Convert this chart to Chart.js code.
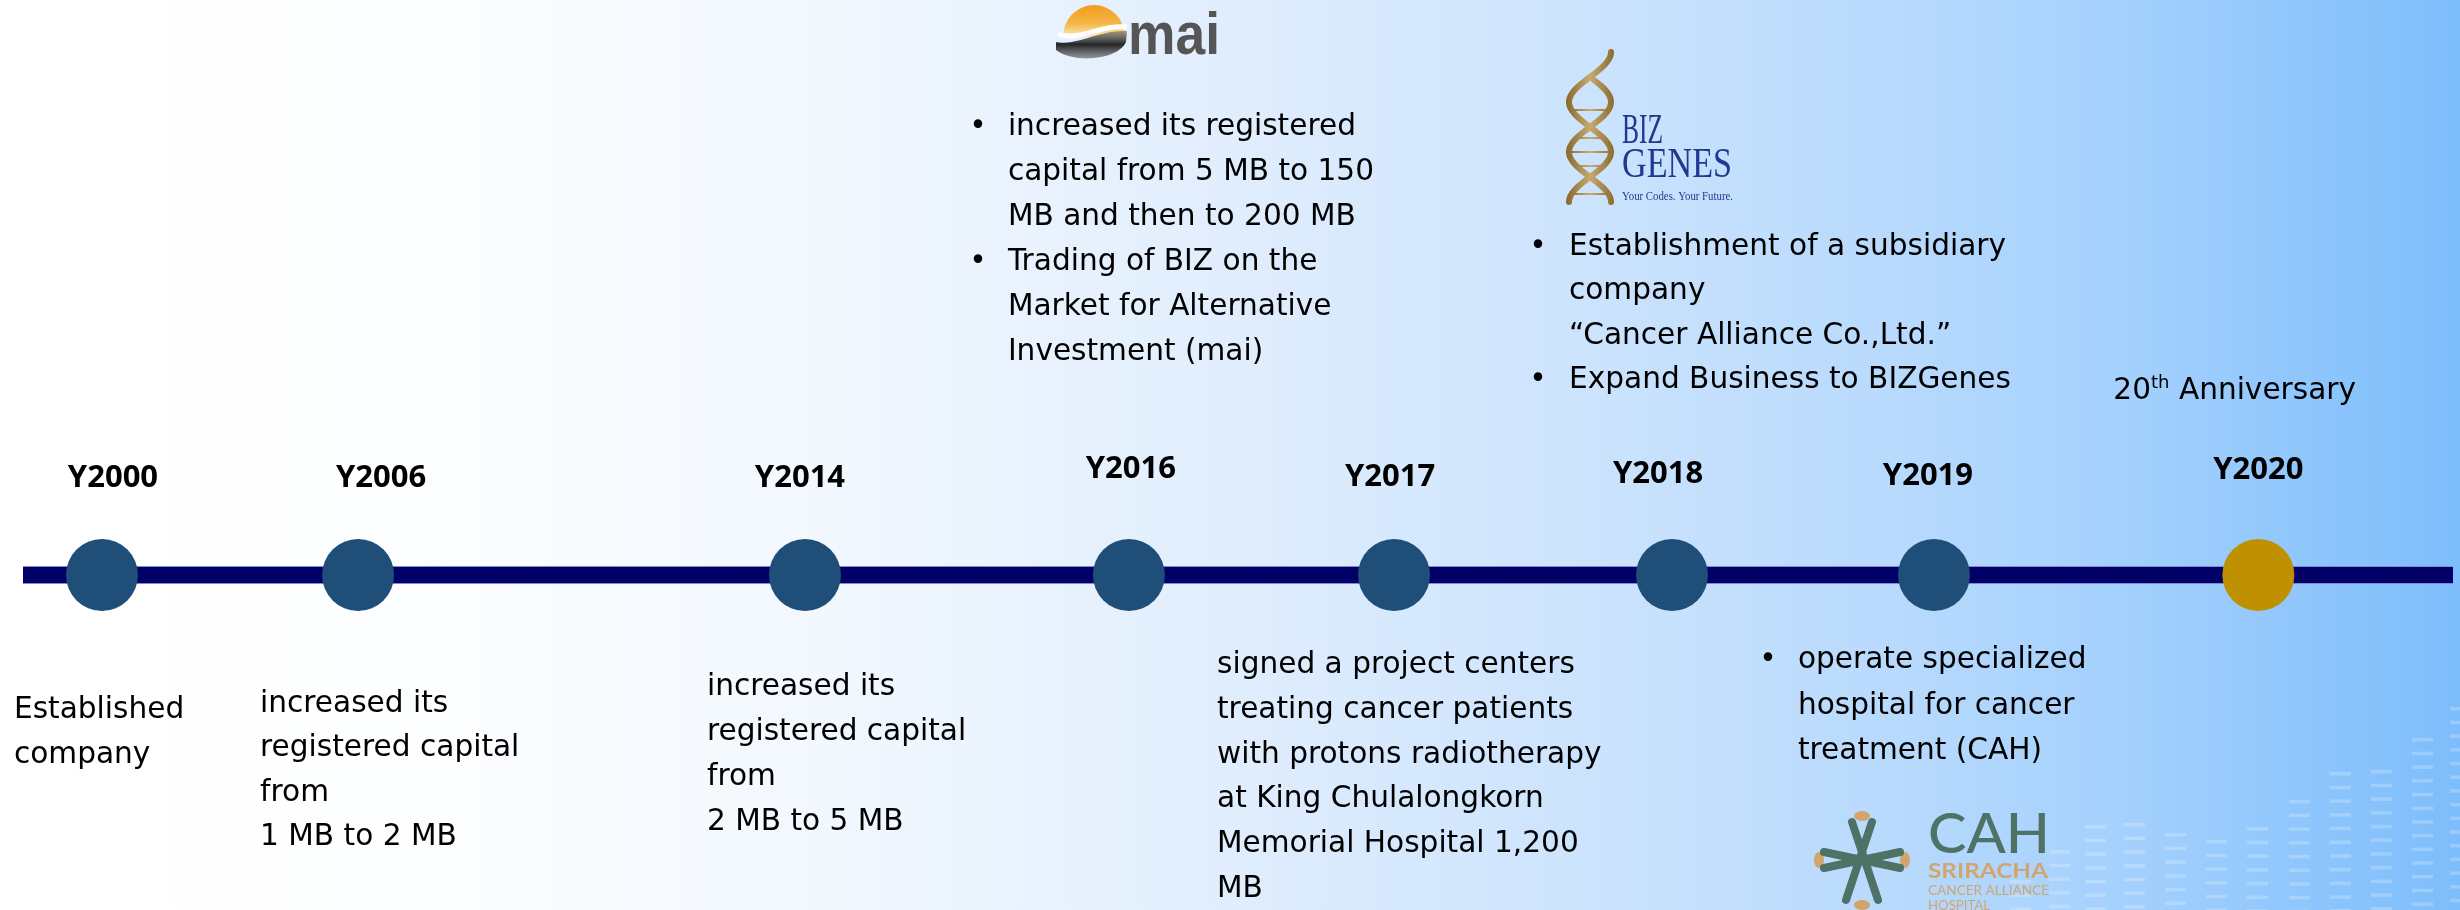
<!DOCTYPE html>
<html>
<head>
<meta charset="utf-8">
<script src="https://cdn.jsdelivr.net/npm/chart.js@4/dist/chart.umd.min.js"></script>
<style>
html,body{margin:0;padding:0;background:#fff;overflow:hidden}
#wrap{width:2460px;height:910px;position:relative}
canvas{display:block}
</style>
</head>
<body>
<div id="wrap"><canvas id="c" width="2460" height="910"></canvas></div>
<script>
// ---------------- DATA ----------------
const years = ['Y2000','Y2006','Y2014','Y2016','Y2017','Y2018','Y2019','Y2020'];
// position of each milestone along the timeline track (percent of track length)
const timelinePos = [3.25, 13.79, 32.18, 45.51, 56.42, 67.86, 78.64, 91.99];
const milestoneLevel = [0, 0, 0, 0, 0, 0, 0, 0];
const highlighted = [false, false, false, false, false, false, false, true];
const bulleted = [false, false, false, true, false, true, true, false];
const eventText = [
  [['Established', 'company']],
  [['increased its', 'registered capital', 'from', '1 MB to 2 MB']],
  [['increased its', 'registered capital', 'from', '2 MB to 5 MB']],
  [['increased its registered', 'capital from 5 MB to 150', 'MB and then to 200 MB'],
   ['Trading of BIZ on the', 'Market for Alternative', 'Investment (mai)']],
  [['signed a project centers', 'treating cancer patients', 'with protons radiotherapy',
    'at King Chulalongkorn', 'Memorial Hospital 1,200', 'MB']],
  [['Establishment of a subsidiary', 'company', '\u201cCancer Alliance Co.,Ltd.\u201d'],
   ['Expand Business to BIZGenes']],
  [['operate specialized', 'hospital for cancer', 'treatment (CAH)']],
  [['20th Anniversary']]
];

// ---------------- LAYOUT (text placement only) ----------------
const textLayout = [
  {dx: -88,  y0: 718, step: 45,   labelDx: 11,  labelY: 487},
  {dx: -98,  y0: 712, step: 44.3, labelDx: 23,  labelY: 487},
  {dx: -98,  y0: 695, step: 45,   labelDx: -5,  labelY: 487},
  {dx: -121, y0: 135, step: 45,   labelDx: 2,   labelY: 478, bulletDx: -151},
  {dx: -177, y0: 673, step: 44.8, labelDx: -4,  labelY: 486},
  {dx: -103, y0: 255, step: 44.3, labelDx: -14, labelY: 483, bulletDx: -134},
  {dx: -136, y0: 668, step: 45.5, labelDx: -6,  labelY: 485, bulletDx: -166},
  {dx: -145, y0: 399, step: 45,   labelDx: 0,   labelY: 479}
];
const BODY_FONT = '29.6px "DejaVu Sans"';
const LABEL_FONT = 'bold 31px "Open Sans"';

function fitText(ctx, text, x, y, targetW) {
  const w = ctx.measureText(text).width;
  ctx.save();
  ctx.translate(x, y);
  ctx.scale(targetW / w, 1);
  ctx.fillText(text, 0, 0);
  ctx.restore();
}

// background gradient + faint equalizer decoration
const bgPlugin = {
  id: 'bg',
  beforeDraw(chart) {
    const ctx = chart.ctx;
    const W = chart.width, H = chart.height;
    ctx.save();
    const g = ctx.createLinearGradient(0, 0, W, 0);
    g.addColorStop(0, '#ffffff');
    g.addColorStop(0.16, '#fdfeff');
    g.addColorStop(0.33, '#f2f8fe');
    g.addColorStop(0.49, '#e2eefd');
    g.addColorStop(0.65, '#cbe3fd');
    g.addColorStop(0.78, '#b6d9fd');
    g.addColorStop(0.875, '#a1cffd');
    g.addColorStop(1, '#7dbdfb');
    ctx.fillStyle = g;
    ctx.fillRect(0, 0, W, H);
    // decorative equalizer columns (background art)
    const cols = [[2020, 880], [2059, 850], [2095, 825], [2134, 823], [2175, 833], [2216, 840],
                  [2257, 827], [2299, 800], [2340, 772], [2381, 770], [2422, 738], [2460, 707]];
    ctx.fillStyle = 'rgba(255,255,255,0.22)';
    cols.forEach(([cx, top]) => {
      for (let y = top; y < H; y += 13.7) ctx.fillRect(cx - 10, y, 21, 3.5);
    });
    ctx.restore();
  }
};

function drawMai(ctx) {
  ctx.save();
  let g = ctx.createLinearGradient(0, 4, 0, 36);
  g.addColorStop(0, '#f09c1c');
  g.addColorStop(0.6, '#f5b545');
  g.addColorStop(1, '#fde6b8');
  ctx.fillStyle = g;
  ctx.beginPath();
  ctx.ellipse(1094, 37, 31, 32, 0, Math.PI, 2 * Math.PI);
  ctx.closePath();
  ctx.fill();
  g = ctx.createLinearGradient(0, 30, 0, 62);
  g.addColorStop(0, 'rgba(90,90,90,0.5)');
  g.addColorStop(0.45, '#262626');
  g.addColorStop(1, 'rgba(60,60,60,0.35)');
  ctx.fillStyle = g;
  ctx.beginPath();
  ctx.moveTo(1056, 42);
  ctx.bezierCurveTo(1078, 46, 1098, 30, 1127, 31);
  ctx.lineTo(1126, 42);
  ctx.bezierCurveTo(1118, 60, 1074, 64, 1056, 50);
  ctx.closePath();
  ctx.fill();
  ctx.strokeStyle = '#ffffff';
  ctx.lineWidth = 5;
  ctx.beginPath();
  ctx.moveTo(1058, 34);
  ctx.bezierCurveTo(1080, 42, 1100, 24, 1127, 27);
  ctx.stroke();
  g = ctx.createLinearGradient(0, 20, 0, 56);
  g.addColorStop(0, '#555');
  g.addColorStop(1, '#222');
  ctx.fillStyle = g;
  ctx.font = 'bold 60px "Liberation Sans"';
  ctx.textBaseline = 'alphabetic';
  ctx.textAlign = 'left';
  fitText(ctx, 'mai', 1128, 54, 92);
  ctx.restore();
}

function drawBizGenes(ctx) {
  ctx.save();
  const g = ctx.createLinearGradient(1567, 0, 1613, 0);
  g.addColorStop(0, '#8a6a2c');
  g.addColorStop(0.5, '#c7aa72');
  g.addColorStop(1, '#8d6d30');
  ctx.strokeStyle = g;
  ctx.lineWidth = 6;
  ctx.lineCap = 'round';
  const cx = 1590, amp = 21, y1 = 52, y2 = 202;
  for (const phase of [0, Math.PI]) {
    ctx.beginPath();
    for (let y = (phase ? 80 : y1); y <= y2; y += 2) {
      const x = cx + amp * Math.cos((y - y1) / (y2 - y1) * 3 * Math.PI + phase);
      if (y === (phase ? 80 : y1)) ctx.moveTo(x, y); else ctx.lineTo(x, y);
    }
    ctx.stroke();
  }
  ctx.lineWidth = 2;
  for (let y = 110; y < 195; y += 14) {
    const t = (y - y1) / (y2 - y1) * 3 * Math.PI;
    const xa = cx + amp * Math.cos(t), xb = cx - amp * Math.cos(t);
    ctx.beginPath(); ctx.moveTo(xa, y); ctx.lineTo(xb, y); ctx.stroke();
  }
  ctx.fillStyle = '#1e3a8e';
  ctx.textAlign = 'left';
  ctx.textBaseline = 'alphabetic';
  ctx.font = '42px "Liberation Serif"';
  fitText(ctx, 'BIZ', 1622, 143, 41);
  fitText(ctx, 'GENES', 1622, 177, 110);
  ctx.font = '12px "Liberation Serif"';
  fitText(ctx, 'Your Codes. Your Future.', 1622, 200, 111);
  ctx.restore();
}

function drawCah(ctx) {
  ctx.save();
  const teal = '#4e7266', tan = '#d2a56c';
  ctx.fillStyle = tan;
  const caps = [[1862, 816, 8, 5], [1862, 905, 8, 5], [1819, 860, 5, 8], [1905, 860, 5, 8]];
  caps.forEach(([x, y, rx, ry]) => { ctx.beginPath(); ctx.ellipse(x, y, rx, ry, 0, 0, 2 * Math.PI); ctx.fill(); });
  ctx.strokeStyle = teal;
  ctx.lineWidth = 8;
  ctx.lineCap = 'round';
  const segs = [
    [1852, 822, 1878, 900], [1872, 822, 1846, 900],
    [1824, 852, 1900, 868], [1824, 868, 1900, 852]
  ];
  segs.forEach(([a, b, c, d]) => { ctx.beginPath(); ctx.moveTo(a, b); ctx.lineTo(c, d); ctx.stroke(); });
  ctx.textAlign = 'left';
  ctx.textBaseline = 'alphabetic';
  ctx.fillStyle = teal;
  ctx.font = '500 56px "Lato"';
  fitText(ctx, 'CAH', 1928, 853, 122);
  ctx.fillStyle = tan;
  ctx.font = 'bold 21px "Lato"';
  fitText(ctx, 'SRIRACHA', 1928, 878, 120);
  ctx.font = '14px "Lato"';
  fitText(ctx, 'CANCER ALLIANCE', 1928, 895, 121);
  fitText(ctx, 'HOSPITAL', 1928, 910, 62);
  ctx.restore();
}

function drawLine(ctx, text, x, y) {
  const m = /^(\d+)(st|nd|rd|th)\b(.*)$/.exec(text);
  if (!m) { ctx.fillText(text, x, y); return; }
  ctx.fillText(m[1], x, y);
  let cx = x + ctx.measureText(m[1]).width;
  const base = ctx.font;
  ctx.font = '18px "DejaVu Sans"';
  ctx.fillText(m[2], cx, y - 11);
  cx += ctx.measureText(m[2]).width;
  ctx.font = base;
  ctx.fillText(m[3], cx, y);
}

const textPlugin = {
  id: 'timelineText',
  afterDraw(chart) {
    const ctx = chart.ctx;
    const xs = chart.scales.x;
    ctx.save();
    ctx.fillStyle = '#000000';
    ctx.textBaseline = 'alphabetic';
    years.forEach((yr, i) => {
      const px = xs.getPixelForValue(timelinePos[i]);
      const L = textLayout[i];
      ctx.font = LABEL_FONT;
      ctx.textAlign = 'center';
      ctx.fillText(yr, px + L.labelDx, L.labelY);
      ctx.font = BODY_FONT;
      ctx.textAlign = 'left';
      let y = L.y0;
      eventText[i].forEach(par => {
        par.forEach((line, k) => {
          if (bulleted[i] && k === 0) {
            ctx.textAlign = 'center';
            ctx.fillText('\u2022', px + L.bulletDx, y);
            ctx.textAlign = 'left';
          }
          drawLine(ctx, line, px + L.dx, y);
          y += L.step;
        });
      });
    });
    drawMai(ctx);
    drawBizGenes(ctx);
    drawCah(ctx);
    ctx.restore();
  }
};

const points = timelinePos.map((p, i) => ({x: p, y: milestoneLevel[i]}));
const trackEnds = [{x: 0, y: 0}, {x: 100, y: 0}];

new Chart(document.getElementById('c').getContext('2d'), {
  type: 'scatter',
  data: {
    labels: years,
    datasets: [
      {
        label: 'Milestones',
        data: points,
        pointRadius: 36,
        pointHoverRadius: 36,
        pointBackgroundColor: highlighted.map(h => h ? '#bf9000' : '#1f4e79'),
        pointBorderWidth: 0,
        showLine: false,
        clip: false
      },
      {
        type: 'line',
        label: 'track',
        data: trackEnds,
        borderColor: '#000066',
        borderWidth: 16,
        pointRadius: 0,
        borderCapStyle: 'butt'
      },
      {
        type: 'line',
        label: 'track edge',
        data: trackEnds,
        borderColor: '#7d8bd6',
        borderWidth: 18,
        pointRadius: 0,
        borderCapStyle: 'butt'
      }
    ]
  },
  options: {
    responsive: false,
    animation: false,
    events: [],
    layout: {autoPadding: false, padding: {left: 23, right: 7, top: 240, bottom: 0}},
    scales: {
      x: {type: 'linear', min: 0, max: 100, display: false},
      y: {type: 'linear', min: -1, max: 1, display: false}
    },
    plugins: {legend: {display: false}, tooltip: {enabled: false}}
  },
  plugins: [bgPlugin, textPlugin]
});
</script>
</body>
</html>
